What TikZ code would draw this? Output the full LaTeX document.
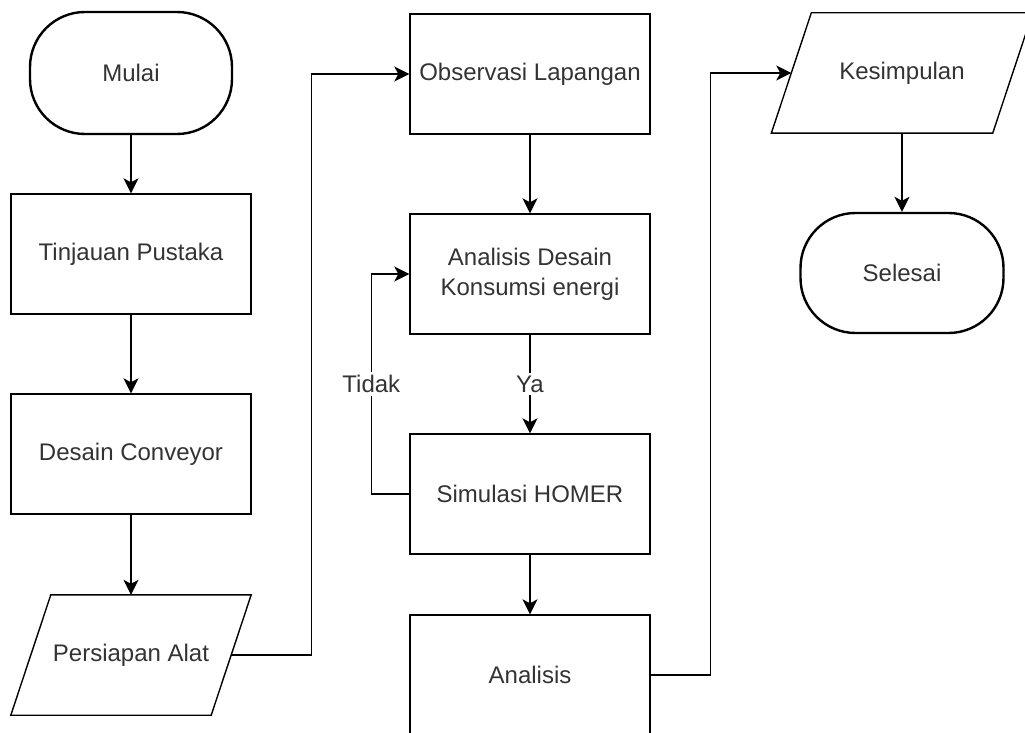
\documentclass[tikz,border=0pt]{standalone}
\usepackage{fontspec}
\setmainfont{Liberation Sans}
\usetikzlibrary{positioning,arrows.meta}
\definecolor{labelgray}{RGB}{51,51,51}
\newcommand{\flowarrowstyle}{-{Stealth[length=15pt,width=15pt,inset=4pt]}}

\begin{document}
\begin{tikzpicture}[
    x=1pt, y=-1pt,
    font=\fontsize{24}{30}\selectfont, text=labelgray,
    sig/.style={\flowarrowstyle, line width=1.4pt, line join=miter},
    procbox/.style={draw, line width=1.4pt, minimum width=240pt, minimum height=120pt, inner sep=0pt, align=center},
    termbox/.style={draw, line width=2.4pt, rounded corners=55pt, minimum width=202pt, minimum height=122pt, inner sep=0pt},
    iobox/.style={minimum height=120pt, inner sep=0pt},
    ioline/.style={line width=1.4pt, line join=miter},
    edgetxt/.style={fill=white, inner sep=3pt}
]
  \def\skew{20pt}
  \useasboundingbox (0,0) rectangle (1025,733);
  \clip (0,0) rectangle (1025,733);

  % left column
  \node[termbox] (mulai) at (131,73) {Mulai};
  \node[procbox] (tinjauan) at (131,254) {Tinjauan Pustaka};
  \node[procbox] (desain) at (131,454) {Desain Conveyor};
  \node[iobox, minimum width=200pt] (persiapan) at (131,655) {Persiapan Alat};

  % middle column
  \node[procbox] (observasi) at (530,74) {Observasi Lapangan};
  \node[procbox] (analisis-desain) at (530,274) {Analisis Desain\\Konsumsi energi};
  \node[procbox] (simulasi) at (530,494) {Simulasi HOMER};
  \node[procbox] (analisis) at (530,675) {Analisis};

  % right column
  \node[iobox, minimum width=221pt] (kesimpulan) at (902,73) {Kesimpulan};
  \node[termbox, minimum width=203pt, minimum height=120pt] (selesai) at (902,273) {Selesai};

  % parallelograms
  \foreach \n in {persiapan,kesimpulan} {
    \draw[ioline] ([xshift=-\skew]\n.south west) -- ([xshift=-\skew]\n.south east)
      -- ([xshift=\skew]\n.north east) -- ([xshift=\skew]\n.north west) -- cycle;
  }

  \foreach \a/\b in {mulai/tinjauan,tinjauan/desain,desain/persiapan,observasi/analisis-desain,simulasi/analisis,kesimpulan/selesai} {
    \draw[sig] (\a.south) -- (\b.north);
  }

  \draw[sig] (analisis-desain.south) -- node[edgetxt] {Ya} (simulasi.north);
  \draw[sig] (simulasi.west) -| ([xshift=-38pt]analisis-desain.west) node[pos=0.75, edgetxt] {Tidak} -- (analisis-desain.west);

  \draw[sig] (persiapan.east) -| ([xshift=-98pt]observasi.west) -- (observasi.west);
  \draw[sig] (analisis.east) -| ([xshift=-81pt]kesimpulan.west) -- (kesimpulan.west);
\end{tikzpicture}
\end{document}
